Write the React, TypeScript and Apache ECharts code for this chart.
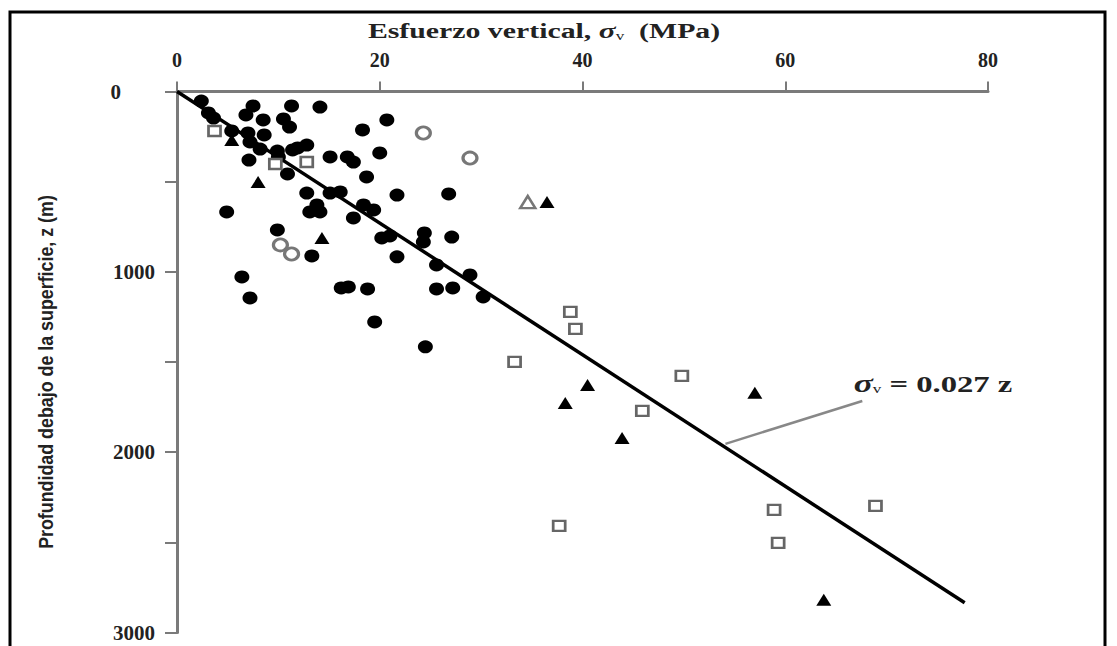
import React, { useEffect, useRef } from "react";
import * as echarts from "echarts";

// ---- Data ----
// Esfuerzo vertical σv (MPa), profundidad z (m)
const filledCircles: number[][] = [
  [2.4, 53], [3.1, 119], [3.6, 147], [7.5, 80], [11.3, 80], [14.1, 86],
  [6.8, 130], [8.5, 158], [10.5, 152], [11.1, 197], [20.7, 158], [18.3, 213],
  [5.4, 219], [7.0, 230], [8.6, 241], [7.2, 280], [8.2, 319], [9.9, 330],
  [11.4, 324], [12.8, 297], [11.9, 313], [7.1, 380], [10.0, 363], [15.1, 363],
  [16.8, 363], [17.4, 391], [20.0, 341], [10.9, 457], [18.7, 474], [12.8, 563],
  [15.1, 563], [16.1, 557], [21.7, 574], [26.8, 568], [4.9, 668], [13.8, 629],
  [13.1, 668], [14.1, 668], [18.4, 629], [19.4, 657], [17.4, 701], [9.9, 768],
  [20.2, 812], [21.0, 801], [24.4, 784], [24.3, 834], [27.1, 807], [13.3, 912],
  [21.7, 917], [25.6, 962], [28.9, 1017], [6.4, 1028], [7.2, 1145], [16.2, 1089],
  [16.9, 1084], [18.8, 1095], [25.6, 1095], [27.2, 1089], [30.2, 1139],
  [19.5, 1278], [24.5, 1416],
];
const filledTriangles: number[][] = [
  [5.4, 269], [8.0, 502], [14.3, 812], [36.5, 613], [40.5, 1627],
  [38.3, 1727], [43.9, 1921], [57.0, 1671], [63.8, 2819],
];
const openSquares: number[][] = [
  [3.7, 219], [9.7, 402], [12.8, 391], [38.8, 1222], [39.3, 1316],
  [33.3, 1499], [49.8, 1577], [45.9, 1771], [37.7, 2409], [58.9, 2320],
  [59.3, 2503], [68.9, 2298],
];
const openCircles: number[][] = [
  [24.3, 230], [28.9, 369], [10.2, 851], [11.3, 901],
];
const openTriangles: number[][] = [[34.6, 613]];

// Fit line σv = 0.027 z (as drawn) and its leader line
const fitLine: number[][] = [[0, 0], [77.7, 2835]];
const leaderLine: number[][] = [[54.1, 1954], [67.6, 1716]];

const xTicks = [0, 20, 40, 60, 80];
const yLabelValues = [0, 1000, 2000, 3000];

const serif = "'Liberation Serif', 'DejaVu Serif', serif";
const sans = "'Liberation Sans', 'DejaVu Sans', sans-serif";

export default function App() {
  const ref = useRef<HTMLDivElement>(null);
  useEffect(() => {
    if (!ref.current) return;
    const chart = echarts.init(ref.current, null, { renderer: "svg" });
    const gray = "#7a7a7a";
    chart.setOption({
      animation: false,
      backgroundColor: "#fff",
      grid: { left: 177, top: 91.5, width: 811, height: 541 },
      xAxis: {
        type: "value",
        position: "top",
        min: xTicks[0],
        max: xTicks[xTicks.length - 1],
        interval: 20,
        splitLine: { show: false },
        axisLine: { show: true, lineStyle: { color: gray, width: 3 } },
        axisTick: { show: true, length: 10, lineStyle: { color: gray, width: 2 } },
        axisLabel: {
          margin: 22,
          fontFamily: serif,
          fontWeight: "bold",
          fontSize: 20,
          color: "#222",
        },
      },
      yAxis: {
        type: "value",
        inverse: true,
        min: 0,
        max: 3000,
        interval: 500,
        splitLine: { show: false },
        axisLine: { show: true, lineStyle: { color: gray, width: 3 } },
        axisTick: { show: true, length: 12, lineStyle: { color: gray, width: 2 } },
        axisLabel: {
          margin: 22,
          fontFamily: serif,
          fontWeight: "bold",
          fontSize: 21,
          color: "#222",
          formatter: (v: number) =>
            yLabelValues.indexOf(v) >= 0 ? (v === 0 ? "{z|0}" : String(v)) : "",
          rich: {
            z: { fontFamily: serif, fontWeight: "bold", fontSize: 21, color: "#222", padding: [0, 34, 0, 0] },
          },
        },
      },
      graphic: [
        {
          type: "rect",
          shape: { x: 10, y: 12, width: 1095, height: 680 },
          style: { fill: "transparent", stroke: "#000", lineWidth: 3 },
          silent: true,
        },
        {
          type: "text",
          x: 544,
          y: 31,
          scaleX: 1.42,
          style: {
            text: "{a|Esfuerzo vertical, }{s|σ}{v|v}{a|  (MPa)}",
            align: "center",
            verticalAlign: "middle",
            rich: {
              a: { fontFamily: serif, fontWeight: "bold", fontSize: 21, fill: "#222" },
              s: { fontFamily: serif, fontStyle: "italic", fontWeight: "bold", fontSize: 22, fill: "#222" },
              v: { fontFamily: serif, fontSize: 12, fill: "#222", padding: [9, 0, 0, 0] },
            },
          },
        },
        {
          type: "text",
          x: 45,
          y: 372,
          rotation: Math.PI / 2,
          scaleX: 0.85,
          style: {
            text: "Profundidad debajo de la superficie, z (m)",
            align: "center",
            verticalAlign: "middle",
            fontFamily: sans,
            fontWeight: "bold",
            fontSize: 21,
            fill: "#222",
          },
        },
        {
          type: "text",
          x: 933,
          y: 384,
          scaleX: 1.42,
          style: {
            text: "{s|σ}{v|v}{a| = 0.027 z}",
            align: "center",
            verticalAlign: "middle",
            rich: {
              a: { fontFamily: serif, fontWeight: "bold", fontSize: 23, fill: "#222" },
              s: { fontFamily: serif, fontStyle: "italic", fontWeight: "bold", fontSize: 25, fill: "#222" },
              v: { fontFamily: serif, fontSize: 12, fill: "#222", padding: [9, 0, 0, 0] },
            },
          },
        },
      ],
      series: [
        {
          type: "line",
          data: fitLine,
          symbol: "none",
          lineStyle: { color: "#000", width: 3.5 },
          z: 1,
        },
        {
          type: "line",
          data: leaderLine,
          symbol: "none",
          lineStyle: { color: "#888", width: 2.5 },
          z: 1,
        },
        {
          type: "scatter",
          data: filledCircles,
          symbol: "circle",
          symbolSize: [15, 13],
          itemStyle: { color: "#000", opacity: 1 },
          z: 3,
        },
        {
          type: "scatter",
          data: filledTriangles,
          symbol: "triangle",
          symbolSize: [15, 12],
          itemStyle: { color: "#000", opacity: 1 },
          z: 3,
        },
        {
          type: "scatter",
          data: openSquares,
          symbol: "rect",
          symbolSize: [12, 10],
          itemStyle: { color: "#fff", borderColor: "#666", borderWidth: 2.5, opacity: 1 },
          z: 3,
        },
        {
          type: "scatter",
          data: openCircles,
          symbol: "circle",
          symbolSize: [14, 12],
          itemStyle: { color: "#fff", borderColor: "#777", borderWidth: 3, opacity: 1 },
          z: 3,
        },
        {
          type: "scatter",
          data: openTriangles,
          symbol: "triangle",
          symbolSize: [15, 12],
          itemStyle: { color: "#fff", borderColor: "#777", borderWidth: 2.5, opacity: 1 },
          z: 3,
        },
      ],
    });
    return () => chart.dispose();
  }, []);
  return (
    <div
      ref={ref}
      style={{ position: "fixed", left: 0, top: 0, width: 1117, height: 646 }}
    />
  );
}
